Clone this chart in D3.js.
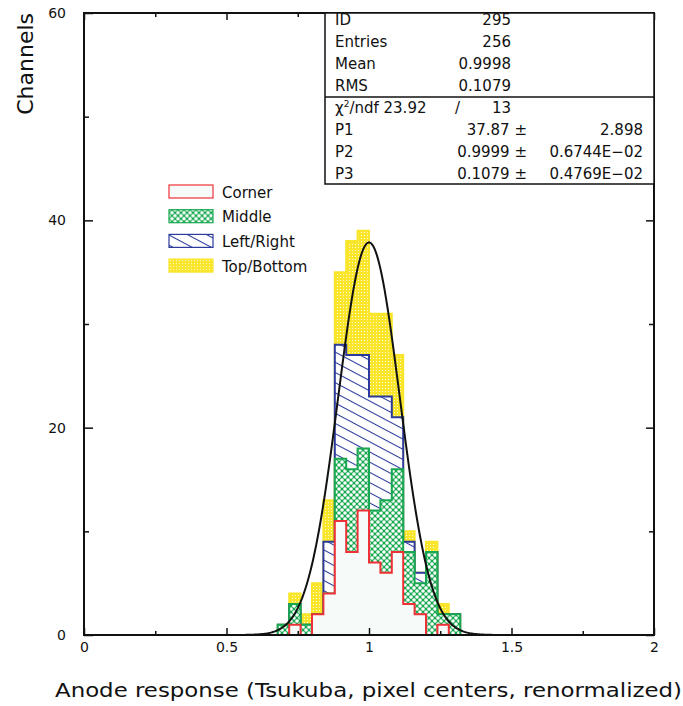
<!DOCTYPE html>
<html>
<head>
<meta charset="utf-8">
<script src="https://cdn.jsdelivr.net/npm/d3@7"></script>
<style>
  body { margin: 0; background: #fff; }
  text { font-family: "DejaVu Sans", sans-serif; fill: #111; }
</style>
</head>
<body>
<script>
// bin lower edges (bin width 0.04), only non-empty region
var binEdges = [0.68, 0.72, 0.76, 0.80, 0.84, 0.88, 0.92, 0.96, 1.00, 1.04, 1.08, 1.12, 1.16, 1.20, 1.24, 1.28];
var binWidth = 0.04;

// counts per category in each bin
var corner    = [0, 1, 0, 2, 4, 11, 8, 12, 7, 6, 8, 3, 2, 0, 1, 0];
var middle    = [1, 2, 1, 0, 0, 6, 8, 6, 5, 7, 8, 5, 3, 8, 1, 2];
var leftRight = [0, 0, 0, 0, 5, 11, 11, 9, 11, 10, 5, 1, 1, 0, 0, 0];
var topBottom = [0, 1, 1, 3, 4, 7, 11, 12, 8, 8, 6, 1, 0, 1, 1, 0];

// gaussian fit parameters
var P1 = 37.87, P2 = 0.9999, P3 = 0.1079;

var xTicks = [0, 0.5, 1, 1.5, 2];
var xMinor = [0.25, 0.75, 1.25, 1.75];
var yTicks = [0, 20, 40, 60];
var yMinor = [10, 30, 50];

var legendNames = ["Corner", "Middle", "Left/Right", "Top/Bottom"];

var statsTop = [["ID", "295"], ["Entries", "256"], ["Mean", "0.9998"], ["RMS", "0.1079"]];
var fitRows  = [["P1", "37.87", "2.898"], ["P2", "0.9999", "0.6744E\u221202"], ["P3", "0.1079", "0.4769E\u221202"]];
var chiVals  = ["23.92", "13"];

var W = 683, H = 706;
var pL = 84, pR = 654, pT = 13, pB = 635;

var svg = d3.select("body").append("svg")
            .attr("width", W)
            .attr("height", H);

var x = d3.scaleLinear().domain([0, 2]).range([pL, pR]);
var y = d3.scaleLinear().domain([0, 60]).range([pB, pT]);

// patterns
var defs = svg.append("defs");

var patY = defs.append("pattern").attr("id", "pat-yellow")
               .attr("patternUnits", "userSpaceOnUse").attr("width", 3).attr("height", 3);
patY.append("rect").attr("width", 3).attr("height", 3).attr("fill", "#f9e52a");
patY.append("rect").attr("x", 1).attr("y", 1).attr("width", 1).attr("height", 1).attr("fill", "#fffbd8");

var patG = defs.append("pattern").attr("id", "pat-green")
               .attr("patternUnits", "userSpaceOnUse").attr("width", 6).attr("height", 6);
patG.append("rect").attr("width", 6).attr("height", 6).attr("fill", "#18a850");
[[0, 0], [6, 0], [0, 6], [6, 6], [3, 3]].forEach(function(p) {
    patG.append("circle").attr("cx", p[0]).attr("cy", p[1]).attr("r", 1.8).attr("fill", "#fff");
});

var patB = defs.append("pattern").attr("id", "pat-blue")
               .attr("patternUnits", "userSpaceOnUse").attr("width", 10).attr("height", 9)
               .attr("patternTransform", "rotate(28)");
patB.append("rect").attr("width", 10).attr("height", 9).attr("fill", "#fff");
patB.append("line").attr("x1", 0).attr("y1", 0.5).attr("x2", 10).attr("y2", 0.5)
    .attr("stroke", "#2c3a9c").attr("stroke-width", 1.1);

// cumulative stacks
function cumulate(arrs) {
    return binEdges.map(function(e, i) {
        return arrs.reduce(function(s, a) { return s + a[i]; }, 0);
    });
}
var cumRed    = cumulate([corner]);
var cumGreen  = cumulate([corner, middle]);
var cumBlue   = cumulate([corner, middle, leftRight]);
var cumYellow = cumulate([corner, middle, leftRight, topBottom]);

var step = d3.line()
             .x(function(d) { return x(d[0]); })
             .y(function(d) { return y(d[1]); })
             .curve(d3.curveStepAfter);

function stepPts(vals) {
    var pts = [[0, 0]];
    binEdges.forEach(function(e, i) { pts.push([e, vals[i]]); });
    pts.push([binEdges[binEdges.length - 1] + binWidth, 0]);
    pts.push([2, 0]);
    return pts;
}

var hists = [
    { vals: cumYellow, fill: "url(#pat-yellow)", stroke: "#f9e52a" },
    { vals: cumBlue,   fill: "url(#pat-blue)",   stroke: "#2c3a9c" },
    { vals: cumGreen,  fill: "url(#pat-green)",  stroke: "#18a850" },
    { vals: cumRed,    fill: "#f6fbfa",          stroke: "#ee3136" }
];

svg.selectAll("path.hist")
   .data(hists)
   .enter()
   .append("path")
   .attr("class", "hist")
   .attr("d", function(d) { return step(stepPts(d.vals)) + "Z"; })
   .attr("fill", function(d) { return d.fill; })
   .attr("stroke", function(d) { return d.stroke; })
   .attr("stroke-width", 2);

// gaussian fit
var fitX = d3.range(0, 2.0001, 0.005);
var gline = d3.line()
              .x(function(d) { return x(d); })
              .y(function(d) { return y(P1 * Math.exp(-0.5 * Math.pow((d - P2) / P3, 2))); });
svg.append("path")
   .attr("d", gline(fitX))
   .attr("fill", "none")
   .attr("stroke", "#111")
   .attr("stroke-width", 2);

// axes, ticks pointing inward
function styleAxis(g) {
    g.select(".domain").remove();
    g.selectAll("line").attr("stroke", "#111").attr("stroke-width", 1.5);
    g.selectAll("text").style("font-size", "14px").attr("fill", "#111");
}

svg.append("g").attr("transform", "translate(0," + pB + ")")
   .call(d3.axisBottom(x).tickValues(xTicks).tickSizeInner(-7).tickSizeOuter(0).tickPadding(7)
           .tickFormat(function(d) { return d; }))
   .call(styleAxis);
svg.append("g").attr("transform", "translate(0," + pB + ")")
   .call(d3.axisBottom(x).tickValues(xMinor).tickSizeInner(-4).tickSizeOuter(0).tickFormat(""))
   .call(styleAxis);
svg.append("g").attr("transform", "translate(0," + pT + ")")
   .call(d3.axisTop(x).tickValues(xTicks).tickSizeInner(-7).tickSizeOuter(0).tickFormat(""))
   .call(styleAxis);
svg.append("g").attr("transform", "translate(0," + pT + ")")
   .call(d3.axisTop(x).tickValues(xMinor).tickSizeInner(-4).tickSizeOuter(0).tickFormat(""))
   .call(styleAxis);

svg.append("g").attr("transform", "translate(" + pL + ",0)")
   .call(d3.axisLeft(y).tickValues(yTicks).tickSizeInner(-9).tickSizeOuter(0).tickPadding(18))
   .call(styleAxis);
svg.append("g").attr("transform", "translate(" + pL + ",0)")
   .call(d3.axisLeft(y).tickValues(yMinor).tickSizeInner(-5).tickSizeOuter(0).tickFormat(""))
   .call(styleAxis);
svg.append("g").attr("transform", "translate(" + pR + ",0)")
   .call(d3.axisRight(y).tickValues(yTicks).tickSizeInner(-8).tickSizeOuter(0).tickFormat(""))
   .call(styleAxis);
svg.append("g").attr("transform", "translate(" + pR + ",0)")
   .call(d3.axisRight(y).tickValues(yMinor).tickSizeInner(-5).tickSizeOuter(0).tickFormat(""))
   .call(styleAxis);

// frame
svg.append("rect")
   .attr("x", pL).attr("y", pT)
   .attr("width", pR - pL).attr("height", pB - pT)
   .attr("fill", "none").attr("stroke", "#111").attr("stroke-width", 2);

// axis titles
svg.append("text")
   .attr("x", 55).attr("y", 697)
   .attr("textLength", 627).attr("lengthAdjust", "spacingAndGlyphs")
   .style("font-size", "20px")
   .text("Anode response (Tsukuba, pixel centers, renormalized)");

svg.append("text")
   .attr("transform", "translate(33,13) rotate(-90)")
   .attr("text-anchor", "end")
   .style("font-size", "22px")
   .text("Channels");

// legend
var legFills = ["#f6fbfa", "url(#pat-green)", "url(#pat-blue)", "url(#pat-yellow)"];
var legStrokes = ["#ee3136", "#18a850", "#2c3a9c", "#f9e52a"];
var leg = svg.selectAll("g.leg")
             .data(legendNames)
             .enter()
             .append("g")
             .attr("class", "leg")
             .attr("transform", function(d, i) { return "translate(169," + (185 + i * 24.7) + ")"; });
leg.append("rect")
   .attr("width", 44).attr("height", 13)
   .attr("fill", function(d, i) { return legFills[i]; })
   .attr("stroke", function(d, i) { return legStrokes[i]; })
   .attr("stroke-width", 1.2);
leg.append("text")
   .attr("x", 53).attr("y", 12.5)
   .style("font-size", "15px")
   .text(function(d) { return d; });

// stats box
var box = svg.append("g");
box.append("rect")
   .attr("x", 325).attr("y", pT)
   .attr("width", pR - 325).attr("height", 184 - pT)
   .attr("fill", "#fff").attr("stroke", "#111").attr("stroke-width", 1.5);
box.append("line")
   .attr("x1", 325).attr("x2", pR).attr("y1", 97).attr("y2", 97)
   .attr("stroke", "#111").attr("stroke-width", 1.5);

var fs = "15px";
var rowY = function(i) { return 25 + i * 22; };
box.selectAll("text.sl").data(statsTop).enter().append("text")
   .attr("x", 335).attr("y", function(d, i) { return rowY(i); })
   .style("font-size", fs).text(function(d) { return d[0]; });
box.selectAll("text.sv").data(statsTop).enter().append("text")
   .attr("x", 511).attr("y", function(d, i) { return rowY(i); })
   .attr("text-anchor", "end")
   .style("font-size", fs).text(function(d) { return d[1]; });

var chi = box.append("text").attr("x", 335).attr("y", rowY(4)).style("font-size", fs);
chi.append("tspan").text("\u03c7");
chi.append("tspan").attr("dy", -6).style("font-size", "9px").text("2");
chi.append("tspan").attr("dy", 6).text("/ndf " + chiVals[0]);
box.append("text").attr("x", 455).attr("y", rowY(4)).style("font-size", fs).text("/");
box.append("text").attr("x", 511).attr("y", rowY(4)).attr("text-anchor", "end")
   .style("font-size", fs).text(chiVals[1]);

box.selectAll("text.fl").data(fitRows).enter().append("text")
   .attr("x", 335).attr("y", function(d, i) { return rowY(i + 5); })
   .style("font-size", fs).text(function(d) { return d[0]; });
box.selectAll("text.fv").data(fitRows).enter().append("text")
   .attr("x", 527).attr("y", function(d, i) { return rowY(i + 5); })
   .attr("text-anchor", "end")
   .style("font-size", fs).text(function(d) { return d[1] + " \u00b1"; });
box.selectAll("text.fe").data(fitRows).enter().append("text")
   .attr("x", 643).attr("y", function(d, i) { return rowY(i + 5); })
   .attr("text-anchor", "end")
   .style("font-size", fs).text(function(d) { return d[2]; });
</script>
</body>
</html>
